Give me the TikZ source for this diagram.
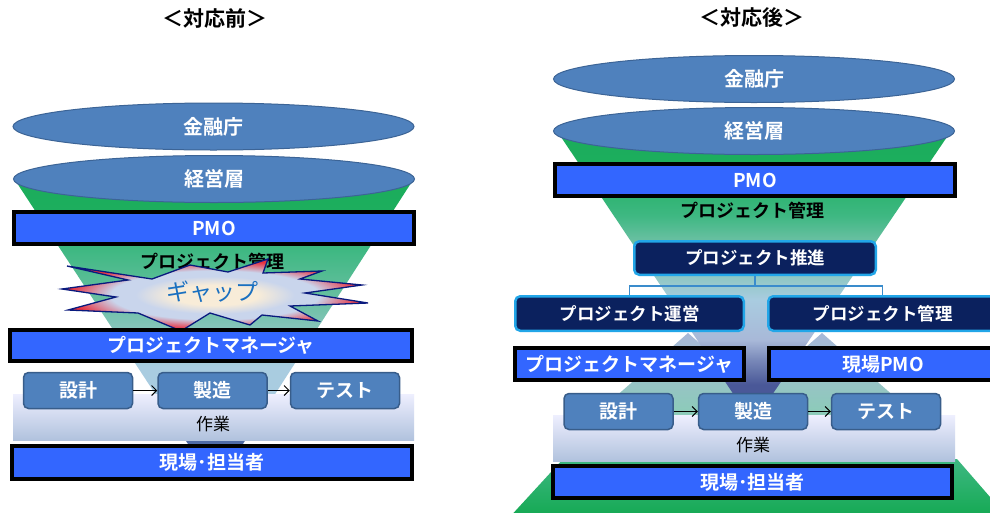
\documentclass[tikz,border=0pt]{standalone}
\usepackage{fontspec}
\setmainfont{Noto Sans CJK JP}[BoldFont=* Bold]
\usetikzlibrary{calc,arrows.meta,shapes.geometric}
\definecolor{fdark}{HTML}{4F6BA6}
\definecolor{fmid}{HTML}{8FA8CF}
\definecolor{flight}{HTML}{A9CCE0}
\definecolor{fteal1}{HTML}{92C8C6}
\definecolor{fteal2}{HTML}{6CC0A4}
\definecolor{fgreen2}{HTML}{3EB882}
\definecolor{fgreen1}{HTML}{1DAE5E}
\definecolor{fgreen0}{HTML}{12A850}
\definecolor{rdark}{HTML}{4A5898}
\definecolor{rmid}{HTML}{7888B8}
\definecolor{rpale}{HTML}{A8B8D8}
\definecolor{gapc}{HTML}{F8ECD8}
\definecolor{gapb}{HTML}{C9D5EC}
\definecolor{gapr}{HTML}{E8303F}
\definecolor{boxblue}{HTML}{3366FF}
\definecolor{navy}{HTML}{0B215E}
\definecolor{cyanb}{HTML}{22A6E8}
\definecolor{taskf}{HTML}{4F81BD}
\definecolor{taskd}{HTML}{385D8A}
\definecolor{ellb}{HTML}{3C6496}
\definecolor{gaptxt}{HTML}{1A70C0}
\definecolor{connc}{HTML}{3A8CCC}
\pgfdeclareverticalshading{funL}{100bp}{color(0bp)=(fdark); color(26.5bp)=(fdark); color(30bp)=(fmid); color(34bp)=(flight); color(40bp)=(flight); color(45bp)=(fteal1); color(52bp)=(fteal2); color(62bp)=(fgreen2); color(69bp)=(fgreen1); color(100bp)=(fgreen0)}
\pgfdeclareverticalshading{funR}{100bp}{color(0bp)=(rdark); color(27bp)=(rdark); color(31.6bp)=(rmid); color(35.4bp)=(rpale); color(43bp)=(flight); color(47bp)=(fteal1); color(54bp)=(fteal2); color(59bp)=(fgreen2); color(68bp)=(fgreen1); color(100bp)=(fgreen0)}
\pgfdeclareradialshading{gapshade}{\pgfpoint{0bp}{0bp}}{color(0bp)=(gapc); color(7bp)=(gapc); color(13bp)=(gapb); color(17bp)=(gapb); color(24bp)=(gapr); color(50bp)=(gapr)}
\tikzset{
  lbl/.style={font=\bfseries\fontsize{19}{19}\selectfont, text=white},
  ellnode/.style={ellipse, draw=ellb, line width=1, fill=taskf, inner sep=0, minimum width=401, minimum height=47, lbl, font=\bfseries\fontsize{20}{20}\selectfont},
  bluebox/.style={rectangle, draw=black, line width=4, fill=boxblue, inner sep=0, lbl},
  navybox/.style={rectangle, rounded corners=5, draw=cyanb, line width=2.5, fill=navy, inner sep=0, lbl, font=\bfseries\fontsize{17.5}{17.5}\selectfont},
  taskbox/.style={rectangle, rounded corners=5, draw=taskd, line width=1.5, fill=taskf, inner sep=0, minimum width=109, minimum height=36, lbl},
  band/.style={top color=white!85!flight!70!blue!20, bottom color=fmid!70!white},
  blacktxt/.style={font=\bfseries\fontsize{18}{18}\selectfont, text=black},
  worktxt/.style={font=\fontsize{17}{17}\selectfont, text=black},
  titletxt/.style={font=\bfseries\fontsize{21}{21}\selectfont, text=black},
  flow/.style={draw=black, line width=1, -{Straight Barb[length=5,width=10]}},
  conn/.style={draw=connc, line width=1.2},
}
\begin{document}
\begin{tikzpicture}[x=1pt,y=-1pt]
\useasboundingbox (0,0) rectangle (990,512);
\fill[white] (0,0) rectangle (990,512);
% ================= LEFT =================
\node[titletxt] (titleL) at (215,18) {＜対応前＞};
\path[shading=funL] (15,180) -- (413,180) -- (241,447) -- (190,447) -- cycle;
\node[ellnode] (ell1L) at (213.5,126.5) {金融庁};
\node[ellnode] (ell2L) at (214,179) {経営層};
\node[bluebox, minimum width=400, minimum height=32] (pmoL) at (214,228) {PMO};
\node[blacktxt] (mgmtL) at (212,262) {プロジェクト管理};
\path[draw=navy!80!blue, line width=1.3, shading=gapshade]
  (67,266) -- (128,280) -- (62,289) -- (116,297) -- (68,310) -- (138,313) -- (181,331)
  -- (210,313) -- (250,325) -- (262,315) -- (318,321) -- (290,306) -- (368,303)
  -- (305,293) -- (362,285) -- (300,279) -- (322,271) -- (263,273) -- (268,259)
  -- (228,272) -- (190,265) -- (152,279) -- cycle;
\node[font=\fontsize{23}{23}\selectfont, text=gaptxt] (gapL) at (212,292) {ギャップ};
\node[bluebox, minimum width=402, minimum height=31] (pmL) at (211,345.5) {プロジェクトマネージャ};
\path[band] (13,394) rectangle (414,440);
\node[worktxt] (sakuL) at (213,424) {作業};
\node[taskbox] (t1L) at (78,390.5) {設計};
\node[taskbox] (t2L) at (212.5,390.5) {製造};
\node[taskbox] (t3L) at (345,390.5) {テスト};
\draw[flow] (t1L) -- (t2L);
\draw[flow] (t2L) -- (t3L);
\node[bluebox, minimum width=400, minimum height=33] (genL) at (212,462.5) {現場･担当者};
% ================= RIGHT =================
\node[titletxt] (titleR) at (752,18) {＜対応後＞};
\path[top color=fgreen2, bottom color=fgreen0] (563,459) -- (957,459) -- (1010,520) -- (507,520) -- cycle;
\path[top color=rpale, bottom color=fteal2!80!white] (688,333) -- (787,420) -- (589,420) -- cycle;
\path[top color=rpale, bottom color=fteal2!80!white] (822,333) -- (921,420) -- (723,420) -- cycle;
\path[shading=funR] (557,131) -- (951,131) -- (772,395) -- (734,395) -- cycle;
\node[ellnode] (ell1R) at (754,79) {金融庁};
\node[ellnode] (ell2R) at (754,131) {経営層};
\node[bluebox, minimum width=400, minimum height=32] (pmoR) at (755,180) {PMO};
\node[blacktxt] (mgmtR) at (752,211) {プロジェクト管理};
\node[navybox, minimum width=241.5, minimum height=33.5] (suishin) at (755,258) {プロジェクト推進};
\node[navybox, minimum width=228.5, minimum height=34.5] (unei) at (629.5,313.5) {プロジェクト運営};
\node[navybox, minimum width=228.5, minimum height=34.5] (kanri) at (882.5,313.5) {プロジェクト管理};
\coordinate (jn) at ($(suishin.south)+(0,10)$);
\draw[conn] (suishin.south) -- (jn) -| (unei.north);
\draw[conn] (jn) -| (kanri.north);
\node[bluebox, minimum width=229, minimum height=32] (pmR) at (629.5,364) {プロジェクトマネージャ};
\node[bluebox, minimum width=228, minimum height=32] (genpmo) at (883,364) {現場PMO};
\path[band] (553,415) rectangle (955,461);
\node[worktxt] (sakuR) at (753,445) {作業};
\node[taskbox] (t1R) at (618.5,411.5) {設計};
\node[taskbox] (t2R) at (753,411.5) {製造};
\node[taskbox] (t3R) at (886,411.5) {テスト};
\draw[flow] (t1R) -- (t2R);
\draw[flow] (t2R) -- (t3R);
\node[bluebox, minimum width=399, minimum height=32] (genR) at (752.5,482) {現場･担当者};
\end{tikzpicture}
\end{document}
